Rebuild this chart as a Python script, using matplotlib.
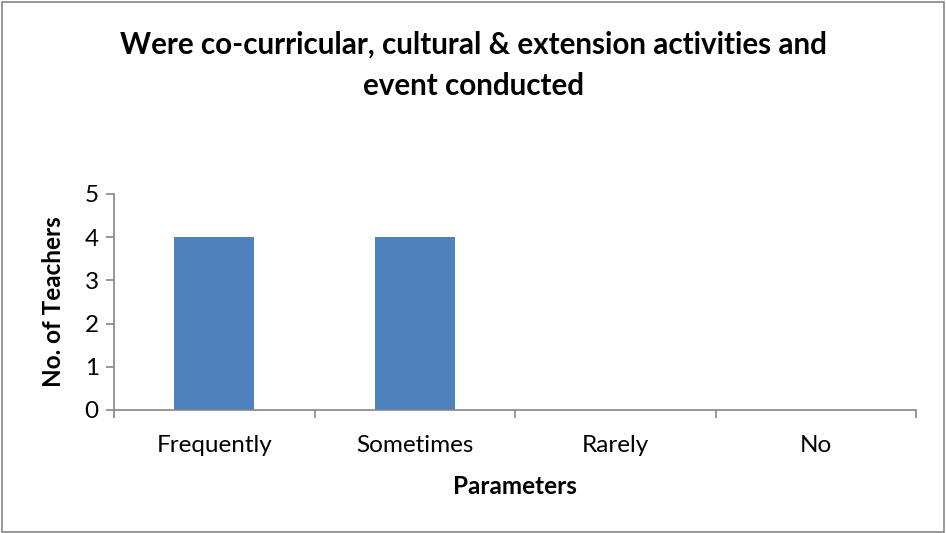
import matplotlib
matplotlib.use("Agg")
import matplotlib.pyplot as plt
from matplotlib.patches import Rectangle

categories = ["Frequently", "Sometimes", "Rarely", "No"]
teachers = [4, 4, 0, 0]
y_ticks = [0, 1, 2, 3, 4, 5]

plt.rcParams["font.family"] = ["Lato", "DejaVu Sans"]

fig = plt.figure(figsize=(9.46, 5.33), dpi=100)
ax = fig.add_axes([114 / 946, 1 - 410 / 533, (916 - 114) / 946, (410 - 194) / 533])

x = list(range(len(categories)))
ax.bar(x, teachers, width=0.4, color="#4F81BD", zorder=2)

ax.set_xlim(-0.5, len(categories) - 0.5)
ax.set_ylim(0, 5)
ax.set_yticks(y_ticks)
ax.set_xticks(x)
ax.set_xticklabels(categories)
ax.set_xticks([i + 0.5 for i in range(-1, len(categories))], minor=True)
ax.tick_params(axis="x", which="major", length=0, pad=18, labelsize=17.5)
ax.tick_params(axis="x", which="minor", length=6, width=1.2, color="#868686")
ax.tick_params(axis="y", length=6, width=1.2, color="#868686", labelsize=17.5, pad=5)

for side in ["top", "right"]:
    ax.spines[side].set_visible(False)
for side in ["left", "bottom"]:
    ax.spines[side].set_color("#868686")
    ax.spines[side].set_linewidth(1.2)

ax.set_xlabel("Parameters", fontsize=17.5, fontweight="bold", labelpad=14)
ax.set_ylabel("No. of Teachers", fontsize=17.5, fontweight="bold", labelpad=14)

fig.text(0.5, 1 - 65.5 / 533,
         "Were co-curricular, cultural & extension activities and\nevent conducted",
         ha="center", va="center", fontsize=21.3, fontweight="bold", linespacing=1.6)

# thin grey frame around the whole chart
fig.patches.append(Rectangle((2 / 946, 1 / 533), 942 / 946, 530 / 533,
                             transform=fig.transFigure, fill=False,
                             edgecolor="#868686", linewidth=1.2))

fig.savefig("out.png", dpi=100)
